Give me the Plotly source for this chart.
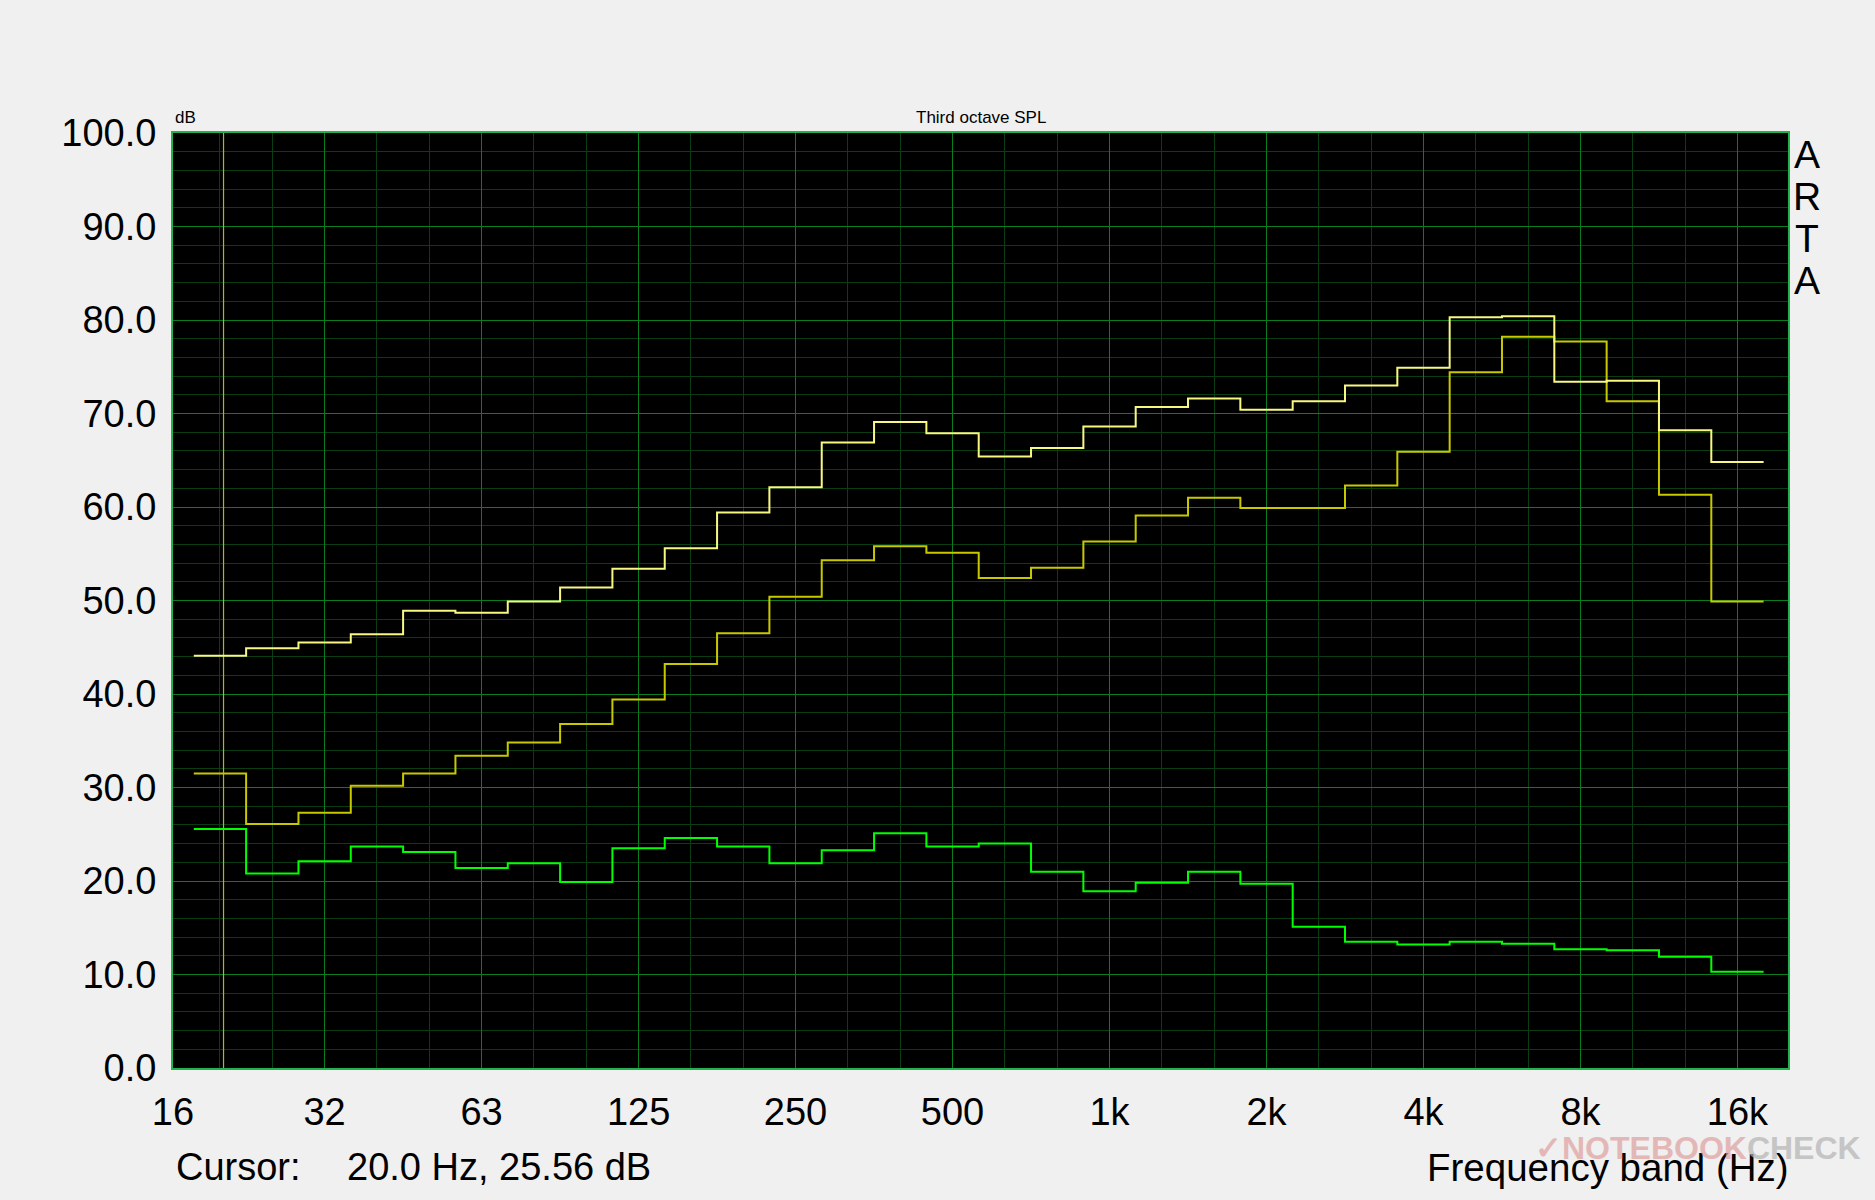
import plotly.graph_objects as go

# ---- data (third-octave band SPL, dB) ----
bands = ["20", "25", "31.5", "40", "50", "63", "80", "100", "125", "160",
         "200", "250", "315", "400", "500", "630", "800", "1k", "1.25k", "1.6k",
         "2k", "2.5k", "3.15k", "4k", "5k", "6.3k", "8k", "10k", "12.5k", "16k"]

spl_max = [44.1, 44.9, 45.5, 46.4, 48.9, 48.7, 49.9, 51.4, 53.4, 55.6,
           59.4, 62.1, 66.9, 69.1, 67.9, 65.4, 66.3, 68.6, 70.7, 71.6,
           70.4, 71.3, 73.0, 74.9, 80.3, 80.4, 73.4, 73.5, 68.2, 64.8]

spl_mid = [31.5, 26.1, 27.3, 30.2, 31.5, 33.4, 34.8, 36.8, 39.4, 43.2,
           46.5, 50.4, 54.3, 55.8, 55.1, 52.4, 53.5, 56.3, 59.1, 61.0,
           59.9, 59.9, 62.3, 65.9, 74.4, 78.2, 77.7, 71.3, 61.3, 49.9]

spl_idle = [25.56, 20.8, 22.1, 23.7, 23.1, 21.4, 21.9, 19.9, 23.5, 24.6,
            23.7, 21.9, 23.3, 25.1, 23.7, 24.0, 21.0, 18.9, 19.8, 21.0,
            19.7, 15.1, 13.5, 13.2, 13.5, 13.3, 12.7, 12.6, 11.9, 10.3]

x_tick_vals = [16, 31.25, 62.5, 125, 250, 500, 1000, 2000, 4000, 8000, 16000]
x_tick_text = ["16", "32", "63", "125", "250", "500", "1k", "2k", "4k", "8k", "16k"]
y_tick_vals = [0, 10, 20, 30, 40, 50, 60, 70, 80, 90, 100]
y_tick_text = ["0.0", "10.0", "20.0", "30.0", "40.0", "50.0", "60.0", "70.0", "80.0", "90.0", "100.0"]

cursor_freq = 20.0
cursor_db = 25.56

# band edges (exact base-2 third octaves, first band centred on 20 Hz)
n_bands = len(bands)
edges = [1000 * 2 ** ((k - 17.5) / 3) for k in range(n_bands + 1)]
minor_x = [1000 * 2 ** (k / 3) for k in range(-17, 14) if k % 3 != 0]

FONT = "Liberation Sans, Arial, sans-serif"

fig = go.Figure()

# cursor line
fig.add_trace(go.Scatter(x=[cursor_freq, cursor_freq], y=[0, 100], mode="lines",
                         line=dict(color="#b8b800", width=1.2), hoverinfo="skip"))


def step(vals, color):
    fig.add_trace(go.Scatter(x=edges, y=vals + [vals[-1]], mode="lines",
                             line=dict(color=color, width=2, shape="hv"),
                             hoverinfo="skip"))


step(spl_mid, "#c8c800")
step(spl_max, "#f8f880")
step(spl_idle, "#00ff00")

fig.update_layout(
    width=1875, height=1200,
    margin=dict(l=173, r=87, t=133, b=132),
    paper_bgcolor="#f0f0f0", plot_bgcolor="#000000",
    showlegend=False,
    font=dict(family=FONT, color="#000000"),
    xaxis=dict(type="log", range=[1.20412, 4.30103],
               tickmode="array", tickvals=x_tick_vals, ticktext=x_tick_text,
               tickfont=dict(size=38, family=FONT, color="#000"),
               ticks="", ticklabelstandoff=9,
               showgrid=True, gridcolor="#0a7d1e", gridwidth=1,
               minor=dict(tickvals=minor_x, showgrid=True, gridcolor="#0a3e12", gridwidth=1, ticks=""),
               zeroline=False, showline=True, mirror=True, linecolor="#22b14c", linewidth=2),
    yaxis=dict(range=[0, 100],
               tickmode="array", tickvals=y_tick_vals, ticktext=y_tick_text,
               tickfont=dict(size=38, family=FONT, color="#000"),
               ticks="", ticklabelstandoff=7,
               showgrid=True, gridcolor="#0a7d1e", gridwidth=1,
               minor=dict(dtick=2, tick0=0, showgrid=True, gridcolor="#0a3e12", gridwidth=1, ticks=""),
               zeroline=False, showline=True, mirror=True, linecolor="#22b14c", linewidth=2),
)

ann = []
ann.append(dict(text="dB", xref="paper", yref="paper", x=0, y=1, xanchor="left", yanchor="bottom",
                yshift=4, showarrow=False, font=dict(size=17, family=FONT, color="#000")))
ann.append(dict(text="Third octave SPL", xref="paper", yref="paper", x=0.5, y=1, xanchor="center",
                yanchor="bottom", yshift=4, showarrow=False, font=dict(size=17, family=FONT, color="#000")))
for i, ch in enumerate("ARTA"):
    ann.append(dict(text=ch, xref="paper", yref="paper", x=1, y=1, xanchor="center", yanchor="middle",
                    xshift=19, yshift=-(21 + 42 * i), showarrow=False,
                    font=dict(size=39, family=FONT, color="#000")))
ann.append(dict(text="Cursor:", xref="paper", yref="paper", x=0, y=0, xanchor="left", yanchor="middle",
                xshift=1, yshift=-99, showarrow=False, font=dict(size=38, family=FONT, color="#000")))
ann.append(dict(text=f"{cursor_freq:.1f} Hz, {cursor_db:.2f} dB", xref="paper", yref="paper", x=0, y=0,
                xanchor="left", yanchor="middle", xshift=172, yshift=-99, showarrow=False,
                font=dict(size=38, family=FONT, color="#000")))
ann.append(dict(text="Frequency band (Hz)", xref="paper", yref="paper", x=1, y=0, xanchor="right",
                yanchor="middle", xshift=3, yshift=-99, showarrow=False,
                font=dict(size=38.5, family=FONT, color="#000")))
ann.append(dict(text="<b><span style='color:#e0a0a0'>✓NOTEBOOK</span><span style='color:#b4b4b4'>CHECK</span></b>",
                xref="paper", yref="paper", x=1, y=0, xanchor="center", yanchor="middle",
                xshift=-90, yshift=-80, showarrow=False, opacity=0.7,
                font=dict(size=32, family="Liberation Sans Narrow, Liberation Sans, Arial", color="#c0c0c0")))
fig.update_layout(annotations=ann)

fig.write_html("out.html", config={"displayModeBar": False},
               post_script="document.body.style.margin='0';")
